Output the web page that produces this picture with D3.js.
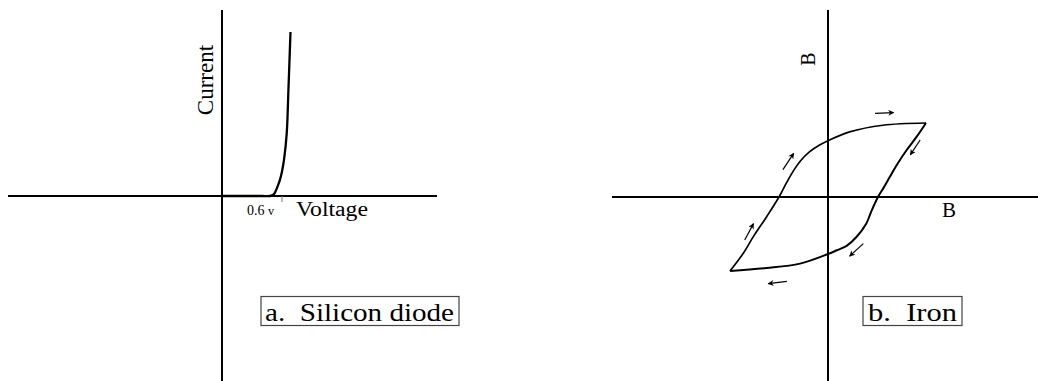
<!DOCTYPE html>
<html>
<head>
<meta charset="utf-8">
<script src="https://cdn.jsdelivr.net/npm/d3@7"></script>
<style>
  body { margin: 0; background: #fff; }
  svg { display: block; }
</style>
</head>
<body>
<div class="viz"></div>
<script>
// silicon diode, voltage (V) vs current (arbitrary units, 100 = top of curve)
var diodeVoltage = [0, 0.1, 0.2, 0.3, 0.4, 0.48, 0.5, 0.52, 0.54, 0.56, 0.58, 0.6, 0.62, 0.647, 0.665, 0.685];
var diodeCurrent = [0, 0, 0, 0, 0, 0, 0.4, 1.2, 3.5, 6.5, 10, 15, 22, 38, 66, 100];
var diodeTick = 0.6;

// iron hysteresis loop, H and B normalised to the tips (-1..1)
var upperH = [-1, -0.864, -0.762, -0.626, -0.5, -0.42, -0.35, -0.28, -0.19, -0.09, 0, 0.22, 0.56, 1];
var upperB = [-1, -0.76, -0.536, -0.266, 0, 0.2, 0.36, 0.49, 0.61, 0.70, 0.76, 0.88, 0.97, 1];
var lowerH = [1, 0.905, 0.803, 0.7, 0.63, 0.565, 0.51, 0.44, 0.39, 0.29, 0.19, 0.09, 0, -0.286, -0.626, -1];
var lowerB = [1, 0.815, 0.635, 0.43, 0.27, 0.12, 0, -0.2, -0.36, -0.54, -0.66, -0.72, -0.77, -0.9, -0.96, -1];

// direction arrows on the loop: [h0, b0, h1, b1]
var loopArrows = [
    [0.48, 1.13, 0.67, 1.14],
    [0.94, 0.77, 0.84, 0.57],
    [-0.46, 0.37, -0.35, 0.59],
    [-0.85, -0.58, -0.76, -0.36],
    [0.36, -0.63, 0.22, -0.80],
    [-0.42, -1.14, -0.61, -1.17]
];

var labels = {
    current: "Current",
    voltage: "Voltage",
    tick: "0.6",
    tickUnit: "v",
    boxA: "a.  Silicon diode",
    boxB: "b.  Iron",
    bVert: "B",
    bHoriz: "B"
};

var serif = '"Liberation Serif", "Times New Roman", serif';
var width = 1038, height = 381;

var svg = d3.select('.viz').append('svg')
    .attr('width', width)
    .attr('height', height);

svg.append('defs').append('marker')
    .attr('id', 'head')
    .attr('markerUnits', 'userSpaceOnUse')
    .attr('viewBox', '0 0 10 10')
    .attr('refX', 9)
    .attr('refY', 5)
    .attr('markerWidth', 7)
    .attr('markerHeight', 6)
    .attr('orient', 'auto')
    .append('path')
    .attr('d', 'M0,0L10,5L0,10L3,5Z')
    .attr('fill', '#000');

function label(g, txt, size) {
    return g.append('text')
        .style('font-family', serif)
        .style('font-size', size + 'px')
        .attr('fill', '#000')
        .text(txt);
}

// ---------- left panel: diode ----------
var xV = d3.scaleLinear().domain([0, 1]).range([222, 322]);
var yI = d3.scaleLinear().domain([0, 100]).range([196, 32]);

var left = svg.append('g');

left.append('line')
    .attr('x1', 8).attr('x2', 437)
    .attr('y1', yI(0)).attr('y2', yI(0))
    .attr('stroke', '#000').attr('stroke-width', 2);

left.append('line')
    .attr('x1', xV(0)).attr('x2', xV(0))
    .attr('y1', 10).attr('y2', height)
    .attr('stroke', '#000').attr('stroke-width', 2);

left.append('line')
    .attr('x1', xV(diodeTick)).attr('x2', xV(diodeTick))
    .attr('y1', yI(0)).attr('y2', yI(0) + 6)
    .attr('stroke', '#777').attr('stroke-width', 1);

left.append('path')
    .datum(diodeVoltage)
    .attr('d', d3.line()
        .x(function(d, i) { return xV(diodeVoltage[i]); })
        .y(function(d, i) { return yI(diodeCurrent[i]); })
        .curve(d3.curveCatmullRom))
    .attr('fill', 'none')
    .attr('stroke', '#000')
    .attr('stroke-width', 2.3);

label(left, labels.current, 23)
    .attr('transform', 'translate(213,80) rotate(-90)')
    .attr('text-anchor', 'middle');

var tickText = label(left, labels.tick + ' ', 14)
    .attr('x', 247).attr('y', 215);
tickText.append('tspan').style('font-size', '12px').text(labels.tickUnit);

label(left, labels.voltage, 20)
    .attr('x', 296).attr('y', 216)
    .attr('textLength', 72)
    .attr('lengthAdjust', 'spacingAndGlyphs');

left.append('rect')
    .attr('x', 261).attr('y', 296.5)
    .attr('width', 198).attr('height', 29)
    .attr('fill', 'none').attr('stroke', '#444').attr('stroke-width', 1.2);

label(left, labels.boxA, 26)
    .attr('x', 265).attr('y', 321)
    .attr('textLength', 189)
    .attr('lengthAdjust', 'spacingAndGlyphs')
    .style('white-space', 'pre');

// ---------- right panel: iron ----------
var xH = d3.scaleLinear().domain([-1, 1]).range([730, 926]);
var yB = d3.scaleLinear().domain([-1, 1]).range([271, 123]);

var right = svg.append('g');

right.append('line')
    .attr('x1', 612).attr('x2', width)
    .attr('y1', yB(0)).attr('y2', yB(0))
    .attr('stroke', '#000').attr('stroke-width', 2);

right.append('line')
    .attr('x1', xH(0)).attr('x2', xH(0))
    .attr('y1', 10).attr('y2', height)
    .attr('stroke', '#000').attr('stroke-width', 2);

var loopLine = function(hs, bs) {
    return d3.line()
        .x(function(d, i) { return xH(hs[i]); })
        .y(function(d, i) { return yB(bs[i]); })
        .curve(d3.curveCatmullRom.alpha(0.5))(hs);
};

right.append('path')
    .attr('d', loopLine(upperH, upperB))
    .attr('fill', 'none').attr('stroke', '#000').attr('stroke-width', 1.7);

right.append('path')
    .attr('d', loopLine(lowerH, lowerB))
    .attr('fill', 'none').attr('stroke', '#000').attr('stroke-width', 2);

right.selectAll('line.arrow')
    .data(loopArrows)
    .enter().append('line')
    .attr('class', 'arrow')
    .attr('x1', function(d) { return xH(d[0]); })
    .attr('y1', function(d) { return yB(d[1]); })
    .attr('x2', function(d) { return xH(d[2]); })
    .attr('y2', function(d) { return yB(d[3]); })
    .attr('stroke', '#000')
    .attr('stroke-width', 1.2)
    .attr('marker-end', 'url(#head)');

label(right, labels.bVert, 20)
    .attr('transform', 'translate(815,59) rotate(-90)')
    .attr('text-anchor', 'middle');

label(right, labels.bHoriz, 21)
    .attr('x', 942).attr('y', 217);

right.append('rect')
    .attr('x', 863).attr('y', 296.5)
    .attr('width', 99).attr('height', 29)
    .attr('fill', 'none').attr('stroke', '#444').attr('stroke-width', 1.2);

label(right, labels.boxB, 26)
    .attr('x', 868).attr('y', 321)
    .attr('textLength', 89)
    .attr('lengthAdjust', 'spacingAndGlyphs')
    .style('white-space', 'pre');
</script>
</body>
</html>
